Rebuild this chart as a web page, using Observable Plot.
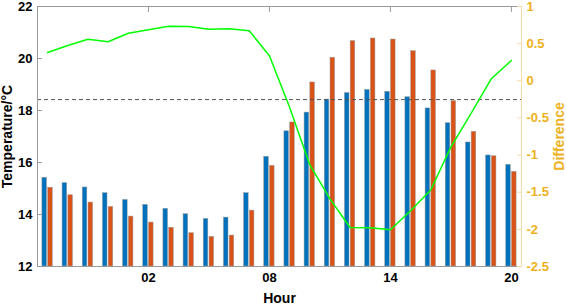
<!DOCTYPE html>
<html><head><meta charset="utf-8">
<script src="https://cdn.jsdelivr.net/npm/d3@7"></script>
<script src="https://cdn.jsdelivr.net/npm/@observablehq/plot@0.6"></script>
<style>body{margin:0;background:#fff;}</style>
</head><body><div id="chart"></div>
<script>
// Hours (−3 = 21h of the previous day)
const hours = [-3,-2,-1,0,1,2,3,4,5,6,7,8,9,10,11,12,13,14,15,16,17,18,19,20];
// Blue series temperature (°C)
const tempBlue = [15.41,15.21,15.04,14.82,14.56,14.37,14.22,14.01,13.83,13.88,14.82,16.22,17.20,17.92,18.42,18.67,18.79,18.72,18.51,18.08,17.51,16.77,16.27,15.91];
// Orange series temperature (°C)
const tempOrange = [15.03,14.74,14.46,14.29,13.92,13.69,13.49,13.28,13.14,13.19,14.15,15.87,17.54,19.08,20.03,20.67,20.77,20.73,20.28,19.54,18.36,17.18,16.24,15.64];
// Difference (right axis)
const difference = [0.38,0.475,0.56,0.525,0.64,0.686,0.735,0.73,0.695,0.70,0.673,0.336,-0.355,-1.13,-1.59,-1.975,-1.98,-2.006,-1.75,-1.47,-0.89,-0.44,0.027,0.273];
const xTicks = [2,8,14,20];
const xTickLabels = ["02","08","14","20"];
const yTicks = [12,14,16,18,20,22];
const diffTicks = [1,0.5,0,-0.5,-1,-1.5,-2,-2.5];
const refLine = 18.42;

const xDomain = [-3.5, 20.5];
const yDomain = [12, 22];
const diffDomain = [-2.5, 1];
const toTemp = d3.scaleLinear().domain(diffDomain).range(yDomain);
const toDiff = toTemp.invert;

// MATLAB grouped-bar geometry (fractions of one hour)
const barOffset = 0.143, barHalf = 0.114;

const data = hours.map((h, i) => ({h, a: tempBlue[i], b: tempOrange[i], d: difference[i]}));

const blue = "#0072BD", orange = "#D95319", yellow = "#EDB120", green = "#00FF00";
const frameGray = "#9a9a9a";

const chart = Plot.plot({
  width: 566, height: 306,
  marginLeft: 37, marginRight: 45, marginTop: 6, marginBottom: 40,
  style: {fontFamily: "'Liberation Sans', Arial, sans-serif", fontSize: "13px", fontWeight: "bold", color: "#000", background: "#fff"},
  x: {domain: xDomain, axis: null},
  y: {domain: yDomain, axis: null},
  marks: [
    Plot.rectY(data, {x1: d => d.h - barOffset - barHalf, x2: d => d.h - barOffset + barHalf, y1: d => yDomain[0], y2: "a", fill: blue, stroke: frameGray, strokeWidth: 0.5}),
    Plot.rectY(data, {x1: d => d.h + barOffset - barHalf, x2: d => d.h + barOffset + barHalf, y1: d => yDomain[0], y2: "b", fill: orange, stroke: frameGray, strokeWidth: 0.5}),
    Plot.ruleY([refLine], {stroke: "#555", strokeDasharray: "4,3", strokeWidth: 1}),
    Plot.line(data, {x: "h", y: d => toTemp(d.d), stroke: green, strokeWidth: 1.5}),
    // frame
    Plot.ruleY(yDomain, {stroke: frameGray, strokeWidth: 1}),
    Plot.ruleX([xDomain[0]], {stroke: frameGray, strokeWidth: 1}),
    Plot.ruleX([xDomain[1]], {stroke: "#f3dca8", strokeWidth: 1}),
    // left axis
    Plot.axisY(yTicks, {anchor: "left", tickSize: 0, tickPadding: 5, label: null, fontSize: 13, fontWeight: "bold"}),
    Plot.axisY(yTicks, {anchor: "left", tickSize: 5, dx: 5, fill: "none", stroke: frameGray, label: null}),
    // right axis
    Plot.axisY(diffTicks.map(toTemp), {anchor: "right", tickSize: 0, tickPadding: 5, label: null, fill: yellow,
      tickFormat: v => String(+toDiff(v).toFixed(2)), fontSize: 13, fontWeight: "bold"}),
    Plot.axisY(diffTicks.map(toTemp), {anchor: "right", tickSize: 5, dx: -5, fill: "none", stroke: "#f3dca8", label: null}),
    // x axis
    Plot.axisX(xTicks, {anchor: "bottom", tickSize: 0, tickPadding: 6, label: null,
      tickFormat: v => xTickLabels[xTicks.indexOf(v)], fontSize: 13, fontWeight: "bold"}),
    Plot.axisX(xTicks, {anchor: "bottom", tickSize: 5, dy: -5, fill: "none", stroke: frameGray, label: null}),
    Plot.axisX(xTicks, {anchor: "top", tickSize: 5, dy: 5, fill: "none", stroke: frameGray, label: null}),
    // axis titles
    Plot.text(["Temperature/°C"], {frameAnchor: "left", textAnchor: "middle", dx: -30, rotate: -90, fontSize: 14, fontWeight: "bold", fill: "#000"}),
    Plot.text(["Hour"], {frameAnchor: "bottom", textAnchor: "middle", dy: 36, fontSize: 14, fontWeight: "bold", fill: "#000"}),
    Plot.text(["Difference"], {frameAnchor: "right", textAnchor: "middle", dx: 38, rotate: -90, fontSize: 14, fontWeight: "bold", fill: yellow})
  ]
});
document.getElementById("chart").appendChild(chart);
</script>
</body></html>
